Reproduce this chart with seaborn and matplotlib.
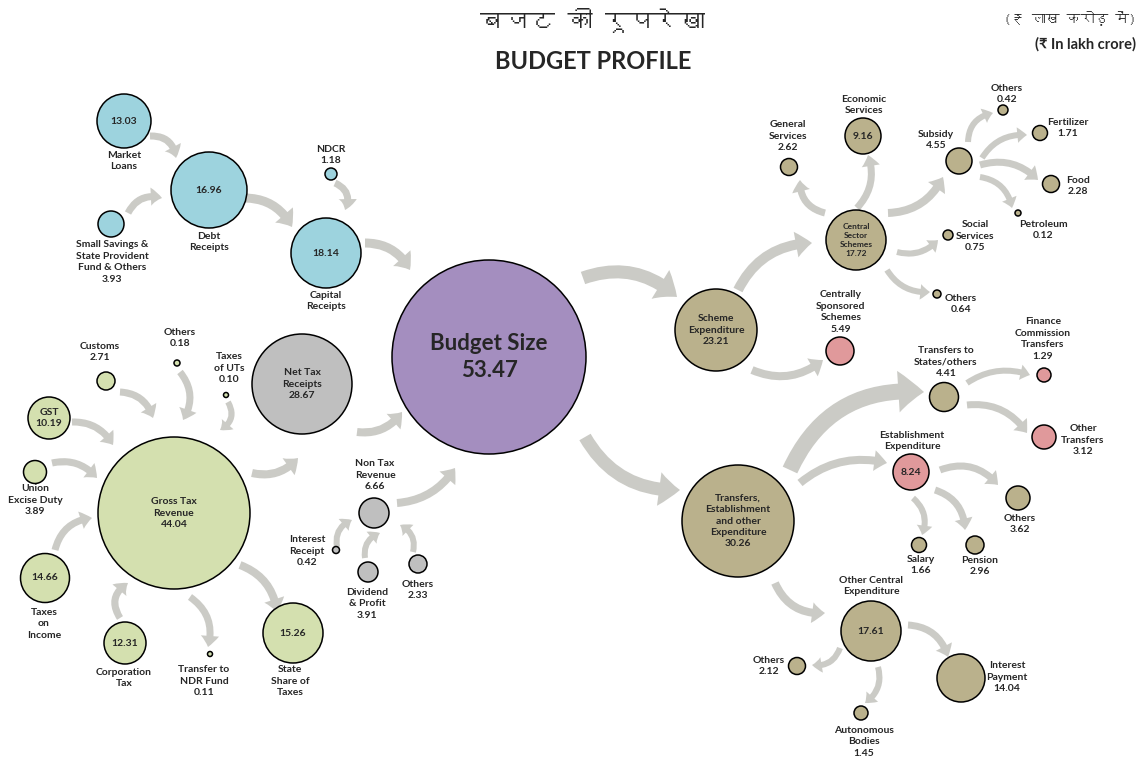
import pandas as pd
import matplotlib
matplotlib.use("Agg")
import matplotlib.pyplot as plt
import seaborn as sns
from matplotlib import font_manager
from matplotlib.ft2font import FT2Font
from matplotlib.patches import FancyArrowPatch, ArrowStyle

# -----------------------------
# DATA (Rs lakh crore)
# -----------------------------

node_ids = ["mkt", "debt", "ss", "ndcr", "cap", "budget", "ntr", "nontax", "intr", "div",
            "oth_nt", "gtr", "cust", "oth_gt", "uts", "gst", "ued", "inc", "corp", "ndr",
            "state", "sch", "tre", "css", "gen", "eco", "sub", "oth_s", "fert", "food",
            "pet", "soc", "oth_cs", "cssp", "tso", "fct", "otr", "est", "oth_e", "sal",
            "pen", "oce", "oth_o", "auto", "intp"]

node_names = ["Market\nLoans", "Debt\nReceipts", "Small Savings &\nState Provident\nFund & Others",
              "NDCR", "Capital\nReceipts", "Budget Size", "Net Tax\nReceipts", "Non Tax\nRevenue",
              "Interest\nReceipt", "Dividend\n& Profit", "Others", "Gross Tax\nRevenue", "Customs",
              "Others", "Taxes\nof UTs", "GST", "Union\nExcise Duty", "Taxes\non\nIncome",
              "Corporation\nTax", "Transfer to\nNDR Fund", "State\nShare of\nTaxes",
              "Scheme\nExpenditure", "Transfers,\nEstablishment\nand other\nExpenditure",
              "Central\nSector\nSchemes", "General\nServices", "Economic\nServices", "Subsidy",
              "Others", "Fertilizer", "Food", "Petroleum", "Social\nServices", "Others",
              "Centrally\nSponsored\nSchemes", "Transfers to\nStates/others",
              "Finance\nCommission\nTransfers", "Other\nTransfers", "Establishment\nExpenditure",
              "Others", "Salary", "Pension", "Other Central\nExpenditure", "Others",
              "Autonomous\nBodies", "Interest\nPayment"]

node_values = [13.03, 16.96, 3.93, 1.18, 18.14, 53.47, 28.67, 6.66, 0.42, 3.91,
               2.33, 44.04, 2.71, 0.18, 0.10, 10.19, 3.89, 14.66, 12.31, 0.11,
               15.26, 23.21, 30.26, 17.72, 2.62, 9.16, 4.55, 0.42, 1.71, 2.28,
               0.12, 0.75, 0.64, 5.49, 4.41, 1.29, 3.12, 8.24, 3.62, 1.66,
               2.96, 17.61, 2.12, 1.45, 14.04]

node_group = ["borrow"] * 5 + ["budget"] + ["nontax"] * 5 + ["tax"] * 10 + \
             ["exp"] * 12 + ["css"] + ["exp", "css", "css", "css", "exp", "exp", "exp", "exp",
                                     "exp", "exp", "exp"]

flows = [("mkt", "debt"), ("ss", "debt"), ("debt", "cap"), ("ndcr", "cap"), ("cap", "budget"),
         ("budget", "sch"), ("budget", "tre"), ("sch", "css"), ("sch", "cssp"),
         ("css", "gen"), ("css", "eco"), ("css", "sub"), ("css", "soc"), ("css", "oth_cs"),
         ("sub", "oth_s"), ("sub", "fert"), ("sub", "food"), ("sub", "pet"),
         ("tre", "tso"), ("tre", "est"), ("tso", "fct"), ("tso", "otr"),
         ("est", "oth_e"), ("est", "sal"), ("est", "pen"), ("tre", "oce"),
         ("oce", "intp"), ("oce", "oth_o"), ("oce", "auto"),
         ("cust", "gtr"), ("oth_gt", "gtr"), ("uts", "gtr"), ("gst", "gtr"), ("ued", "gtr"),
         ("inc", "gtr"), ("corp", "gtr"), ("gtr", "ndr"), ("gtr", "state"), ("gtr", "ntr"),
         ("ntr", "budget"), ("nontax", "budget"), ("intr", "nontax"), ("div", "nontax"),
         ("oth_nt", "nontax")]

# -----------------------------
# LAYOUT (pixels, y down)
# -----------------------------

# x, y, radius
node_xy = {
    "mkt": (124, 121, 27), "debt": (209, 190, 38), "ss": (111, 224, 13), "ndcr": (331, 174, 6),
    "cap": (326, 253, 35), "budget": (489, 357, 97), "ntr": (302, 384, 50),
    "nontax": (374, 513, 15), "intr": (336, 550, 3.5), "div": (368, 572, 10),
    "oth_nt": (418, 564, 9), "gtr": (174, 513, 76), "cust": (106, 381, 9),
    "oth_gt": (177, 363, 3), "uts": (226, 395, 2.5), "gst": (49, 418, 21),
    "ued": (35, 472, 11.5), "inc": (45, 578, 24.5), "corp": (125, 643, 21),
    "ndr": (210, 654, 2.5), "state": (293, 633, 30), "sch": (716, 330, 41),
    "tre": (738, 521, 56), "css": (856, 240, 30), "gen": (789, 167, 8.5),
    "eco": (863, 136, 18), "sub": (959, 161, 13), "oth_s": (1003, 110, 5),
    "fert": (1040, 133, 7.5), "food": (1051, 184, 8.5), "pet": (1018, 213, 3),
    "soc": (948, 235, 5), "oth_cs": (937, 294, 4), "cssp": (840, 351, 14),
    "tso": (944, 397, 14.5), "fct": (1044, 375, 7), "otr": (1044, 437, 12),
    "est": (911, 472, 18), "oth_e": (1018, 498, 12), "sal": (919, 545, 7.5),
    "pen": (975, 545, 9), "oce": (871, 631, 30), "oth_o": (797, 666, 8.5),
    "auto": (861, 713, 7), "intp": (961, 678, 24),
}

# label mode: 'in' all inside, 'split' value inside and name outside, 'out' all outside
label_mode = {"mkt": "split", "debt": "split", "cap": "split", "budget": "in", "ntr": "in",
              "gtr": "in", "gst": "in", "inc": "split", "corp": "split", "state": "split",
              "sch": "in", "tre": "in", "css": "in", "eco": "split", "est": "split",
              "oce": "split"}

label_xy = {
    "mkt": (124, 161), "debt": (209, 242), "ss": (112, 262), "ndcr": (331, 155),
    "cap": (326, 301), "nontax": (375, 475), "intr": (307, 551), "div": (367, 604),
    "oth_nt": (418, 590), "cust": (100, 352), "oth_gt": (180, 338), "uts": (229, 368),
    "ued": (35, 500), "inc": (44, 624), "corp": (124, 678), "ndr": (204, 681),
    "state": (290, 681), "gen": (788, 136), "eco": (864, 105), "sub": (936, 140),
    "oth_s": (1007, 94), "fert": (1068, 128), "food": (1078, 186), "pet": (1043, 230),
    "soc": (975, 236), "oth_cs": (961, 304), "cssp": (841, 312), "tso": (946, 362),
    "fct": (1043, 339), "otr": (1083, 440), "est": (912, 441), "oth_e": (1020, 524),
    "sal": (921, 565), "pen": (980, 566), "oce": (871, 586), "oth_o": (769, 666),
    "auto": (864, 742), "intp": (1007, 677),
}

# tail xy, head xy, rad, tail width (px) - same order as flows
arrow_geom = [
    ((150, 136), (176, 158), -0.45, 7), ((128, 213), (162, 198), -0.4, 7),
    ((245, 198), (292, 227), -0.3, 9), ((335, 183), (345, 210), -0.5, 7),
    ((365, 243), (410, 270), -0.3, 9),
    ((583, 278), (677, 297), -0.3, 13), ((585, 437), (680, 490), 0.3, 13),
    ((738, 290), (812, 243), -0.3, 10), ((752, 370), (823, 360), 0.3, 8),
    ((825, 213), (800, 180), -0.4, 7), ((857, 208), (868, 155), 0.3, 7),
    ((888, 213), (943, 177), 0.3, 8), ((897, 252), (938, 240), 0.3, 6),
    ((887, 270), (930, 292), 0.3, 6),
    ((968, 142), (993, 113), -0.4, 6), ((982, 158), (1027, 135), -0.3, 6),
    ((980, 165), (1038, 180), -0.3, 7), ((980, 177), (1012, 208), -0.35, 6),
    ((790, 470), (924, 392), -0.35, 16), ((800, 483), (887, 463), -0.25, 8),
    ((967, 383), (1030, 375), -0.25, 6), ((967, 405), (1027, 433), -0.3, 7),
    ((940, 470), (998, 485), -0.35, 7), ((913, 498), (922, 535), -0.35, 6),
    ((935, 490), (965, 530), -0.35, 7), ((775, 583), (825, 613), 0.35, 8),
    ((908, 625), (948, 657), -0.35, 7), ((840, 648), (812, 665), -0.4, 6),
    ((878, 667), (865, 703), -0.35, 6),
    ((120, 392), (153, 418), -0.35, 7), ((180, 372), (183, 420), -0.35, 7),
    ((228, 402), (220, 430), -0.5, 6), ((72, 422), (113, 445), -0.3, 7),
    ((52, 463), (97, 478), -0.3, 7), ((55, 550), (92, 518), -0.35, 7),
    ((120, 618), (128, 583), -0.5, 7), ((190, 597), (208, 647), -0.35, 7),
    ((240, 565), (277, 612), -0.3, 8), ((252, 473), (298, 458), 0.3, 8),
    ((357, 432), (402, 412), 0.3, 8), ((397, 503), (455, 468), 0.25, 8),
    ((337, 547), (352, 520), -0.4, 6), ((365, 558), (380, 533), -0.4, 6),
    ((413, 552), (400, 525), 0.4, 6),
]

group_colors = {"borrow": "#9dd3de", "budget": "#a48ebf", "nontax": "#bfbfbf",
                "tax": "#d4e0af", "exp": "#bab18c", "css": "#e0999b"}
arrow_color = "#cbcbc6"

# -----------------------------
# FONTS
# -----------------------------

def find_font(ch):
    for f in font_manager.fontManager.ttflist:
        try:
            if ord(ch) in FT2Font(f.fname).get_charmap():
                return f.name
        except Exception:
            pass
    return None

deva = find_font("\u092c")
sns.set_style("white")
plt.rcParams["font.family"] = ["Lato", "DejaVu Sans"]
hindi_family = [deva, "DejaVu Sans"] if deva else ["DejaVu Sans"]

# -----------------------------
# BUILD TABLE
# -----------------------------

px2pt = 72 / 100
df = pd.DataFrame({"id": node_ids, "name": node_names, "value": node_values, "group": node_group})
df["x"] = [node_xy[i][0] for i in df["id"]]
df["y"] = [node_xy[i][1] for i in df["id"]]
df["s"] = [(2 * node_xy[i][2] * px2pt) ** 2 for i in df["id"]]

fig = plt.figure(figsize=(11.43, 7.65), dpi=100)
ax = fig.add_axes([0, 0, 1, 1])

# arrows
for (src, dst), (p0, p1, rad, w) in zip(flows, arrow_geom):
    style = ArrowStyle.Simple(head_length=1.6 * w * px2pt, head_width=2.6 * w * px2pt,
                              tail_width=w * px2pt)
    ax.add_patch(FancyArrowPatch(p0, p1, arrowstyle=style, connectionstyle=f"arc3,rad={rad}",
                                 color=arrow_color, lw=0, mutation_scale=1, zorder=1,
                                 shrinkA=0, shrinkB=0))

smin, smax = df["s"].min(), df["s"].max()
sns.scatterplot(data=df, x="x", y="y", hue="group", palette=group_colors, size="s",
                sizes=(smin, smax), size_norm=(smin, smax), edgecolor="black",
                linewidth=1.1, legend=False, ax=ax, zorder=3)

# labels
fs = 7.5
for _, row in df.iterrows():
    val = f"{row['value']:.2f}"
    mode = label_mode.get(row["id"], "out")
    if row["id"] == "budget":
        ax.text(row["x"], row["y"], f"{row['name']}\n{val}", ha="center", va="center",
                fontsize=16, fontweight="bold", linespacing=1.3, zorder=4)
    elif mode == "in":
        size = 6 if row["id"] == "css" else fs
        ax.text(row["x"], row["y"], f"{row['name']}\n{val}", ha="center", va="center",
                fontsize=size, fontweight="bold", linespacing=1.35, zorder=4)
    elif mode == "split":
        ax.text(row["x"], row["y"], val, ha="center", va="center", fontsize=fs,
                fontweight="bold", zorder=4)
        lx, ly = label_xy[row["id"]]
        ax.text(lx, ly, row["name"], ha="center", va="center", fontsize=fs,
                fontweight="bold", linespacing=1.35, zorder=4)
    else:
        lx, ly = label_xy[row["id"]]
        ax.text(lx, ly, f"{row['name']}\n{val}", ha="center", va="center", fontsize=fs,
                fontweight="bold", linespacing=1.35, zorder=4)

# titles
ax.text(593, 20, "बजट की रूपरेखा", ha="center", va="center", fontsize=18,
        fontweight="bold", family=hindi_family)
ax.text(593, 61, "BUDGET PROFILE", ha="center", va="center", fontsize=17, fontweight="bold")
ax.text(1136, 18, "(₹ लाख करोड़ में)", ha="right", va="center", fontsize=10,
        fontweight="bold", family=hindi_family)
ax.text(1136, 44, "(₹ In lakh crore)", ha="right", va="center", fontsize=10.5,
        fontweight="bold", family=["Lato", "DejaVu Sans"])

ax.set_xlim(0, 1143)
ax.set_ylim(765, 0)
ax.axis("off")

plt.savefig("out.png", dpi=100)
